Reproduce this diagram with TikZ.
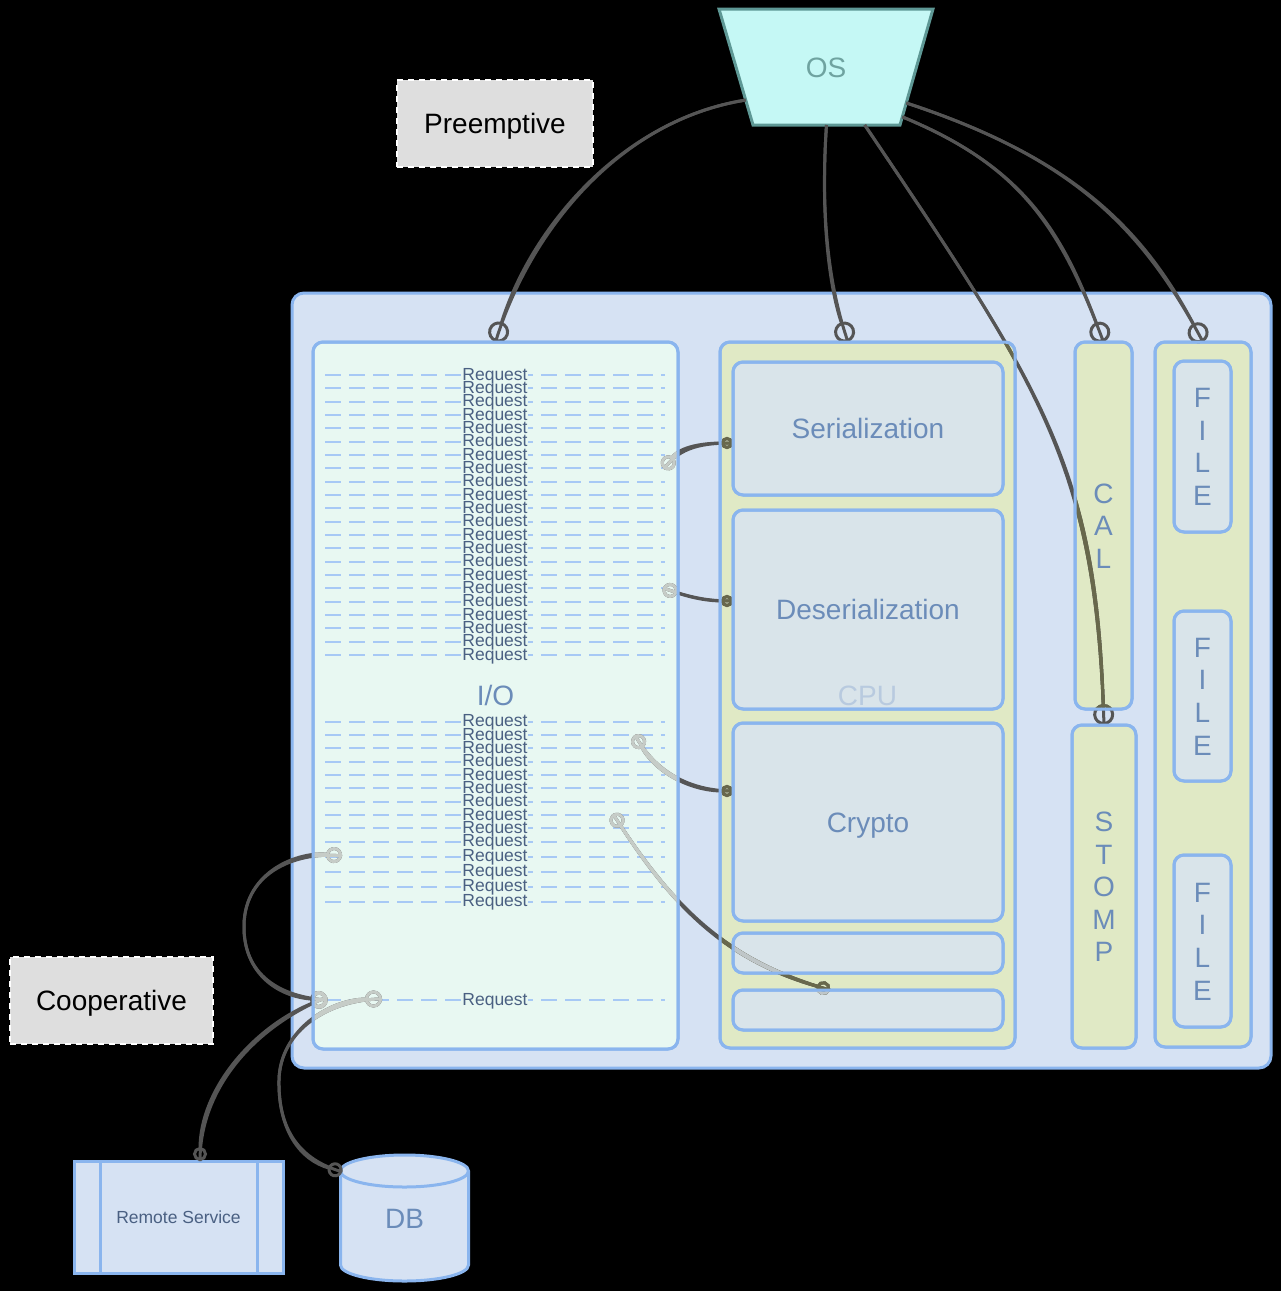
\documentclass[tikz,border=0pt]{standalone}
\usepackage{fontspec}
\setmainfont{Liberation Sans}
\usetikzlibrary{arrows.meta,calc}
\definecolor{mainfill}{HTML}{D6E2F3}
\definecolor{bordc}{HTML}{8AB5EE}
\definecolor{iofill}{HTML}{E8F8F2}
\definecolor{ygfill}{HTML}{E0E9C5}
\definecolor{innerfill}{HTML}{D9E4EA}
\definecolor{lblc}{HTML}{6B8CB9}
\definecolor{reqtxt}{HTML}{4A6082}
\definecolor{dashc}{HTML}{A7C9F5}
\definecolor{osfill}{HTML}{C5F8F5}
\definecolor{osline}{HTML}{5E9895}
\definecolor{ostxt}{HTML}{6FA3A0}
\definecolor{greyfill}{HTML}{DEDEDE}
\definecolor{linedark}{HTML}{555555}
\definecolor{lineio}{HTML}{C6CCC7}
\definecolor{lineolive}{HTML}{68684C}
\definecolor{lineinner}{HTML}{BFC6C8}
\definecolor{cpufade}{HTML}{B8CADF}
\newcommand\myBig{\fontsize{28pt}{32pt}\selectfont}
\newcommand\myReq{\fontsize{17.5pt}{20pt}\selectfont}
\newcommand\cn[2]{\draw #2; \draw[#1] #2;}
\newcommand\drawconns[1]{%
\begin{scope}[color=#1, line width=3pt]
\cn{-{Circle[open,length=21pt,width=21pt]}}{($(ostl)!0.785!(osbl)$) .. controls (620,120) and (530,230) .. (io.north)}
\cn{-{Circle[open,length=21pt,width=21pt]}}{($(osbl)!0.5!(osbr)$) .. controls (820,220) and (830,290) .. ($(cpu.north)+(-19.5,0)$)}
\cn{-{Circle[open,length=21pt,width=21pt]}}{($(osbl)!0.76!(osbr)$) .. controls (1044,391) and (1095.5,467) .. (stomp.north)}
\cn{-{Circle[open,length=21pt,width=21pt]}}{($(ostr)!0.93!(osbr)$) .. controls (1022,166) and (1061,229) .. (cal.north)}
\cn{-{Circle[open,length=21pt,width=21pt]}}{($(ostr)!0.81!(osbr)$) .. controls (1071,157) and (1142,227) .. (filec.north)}
\cn{{Circle[open,length=15pt,width=15pt]}-{Circle[open,length=12pt,width=12pt]}}{(p1) .. controls (680,446) and (705,443) .. ($(ser.west)+(0,14.5)$)}
\cn{{Circle[open,length=15pt,width=15pt]}-{Circle[open,length=12pt,width=12pt]}}{(p2) .. controls (692,598) and (708,601) .. ($(deser.west)+(0,-8.5)$)}
\cn{{Circle[open,length=15pt,width=15pt]}-{Circle[open,length=12pt,width=12pt]}}{(p3) .. controls (655,772) and (690,791) .. ($(crypto.west)+(0,-31)$)}
\cn{{Circle[open,length=15pt,width=15pt]}-{Circle[open,length=14pt,width=14pt]}}{(p4) .. controls (672,905) and (724,960) .. ($(sm2.north)+(-38,0)$)}
\cn{{Circle[open,length=16pt,width=16pt]}-{Circle[open,length=17pt,width=17pt]}}{(p5) .. controls (300,851) and (245,870) .. (244,925) .. controls (243,975) and (280,997) .. (p6)}
\cn{{Circle[open,length=17pt,width=17pt]}-{Circle[open,length=14pt,width=14pt]}}{(p7) .. controls (252,1028) and (200,1090) .. ($(remote.north)+(21.5,0)$)}
\cn{{Circle[open,length=17pt,width=17pt]}-{Circle[open,length=15pt,width=15pt]}}{(p8) .. controls (330,999) and (280,1030) .. (279,1080) .. controls (278,1130) and (300,1160) .. ($(db.north west)+(2,17)$)}
\end{scope}}
\begin{document}
\begin{tikzpicture}[x=1pt,y=-1pt,
 bx/.style={draw=bordc,line width=3pt,rounded corners=10pt,inner sep=0pt,outer sep=0pt},
 big/.style={font=\myBig,text height=20pt,text depth=0pt,text=lblc,inner sep=0pt},
 letter/.style={font=\myBig,text height=20pt,text depth=0pt,text=lblc,inner sep=0pt},
 req/.style={font=\myReq,text height=12.5pt,text depth=0pt,text=reqtxt,inner sep=0pt},
 reqline/.style={draw=dashc,line width=2pt,dash pattern=on 16pt off 8pt},
 gbox/.style={fill=greyfill,draw=white,line width=2pt,dash pattern=on 6pt off 5pt,minimum height=87pt,inner sep=0pt,font=\myBig,text height=20pt,text depth=0pt,text=black},
]
\fill[black] (0,0) rectangle (1281,1291);
\useasboundingbox (0,0) rectangle (1281,1291);

% main container
\node[bx,fill=mainfill,rounded corners=12pt,minimum width=979pt,minimum height=775pt] (main) at (781.5,680.5) {};

% labels
\node[gbox,minimum width=196pt] (pre) at (495,123.5) {Preemptive};
\node[gbox,minimum width=203pt] (coop) at (111.5,1000) {Cooperative};

% I/O
\node[bx,fill=iofill,minimum width=365pt,minimum height=707pt,big] (io) at (495.5,695.5) {I/O};
\foreach \k in {0,...,21} {
  \draw[reqline] (325,375+13.333*\k) -- (462,375+13.333*\k);
  \draw[reqline,dash phase=11pt] (528,375+13.333*\k) -- (665,375+13.333*\k);
  \node[req] (ra\k) at (495,374+13.333*\k) {Request};
}
\foreach \yy [count=\k] in {721.7,735,748.3,761.7,775,788.3,801.7,815,828.3,841.7,856.7,871.7,886.7,901.7} {
  \draw[reqline] (325,\yy) -- (462,\yy);
  \draw[reqline,dash phase=11pt] (528,\yy) -- (665,\yy);
  \node[req] (rb\k) at (495,\yy-1) {Request};
}
\draw[reqline] (325,1000) -- (462,1000);
\draw[reqline,dash phase=11pt] (528,1000) -- (665,1000);
\node[req] (rc) at (495,999) {Request};

% CPU
\node[bx,fill=ygfill,minimum width=295pt,minimum height=706pt] (cpu) at (867.5,695) {};
\node[bx,fill=innerfill,minimum width=270pt,minimum height=133pt,big] (ser) at (868,428.5) {Serialization};
\node[bx,fill=innerfill,minimum width=270pt,minimum height=199pt,big] (deser) at (868,609.5) {Deserialization};
\node[bx,fill=innerfill,minimum width=270pt,minimum height=198pt,big] (crypto) at (868,822) {Crypto};
\node[bx,fill=innerfill,minimum width=270pt,minimum height=40pt] (sm1) at (868,953) {};
\node[bx,fill=innerfill,minimum width=270pt,minimum height=40pt] (sm2) at (868,1010) {};

% CAL / STOMP / FILE
\node[bx,fill=ygfill,minimum width=57pt,minimum height=367pt] (cal) at (1103.5,525.5) {};
\foreach \ch [count=\k from 0] in {C,A,L} \node[letter] (cal\k) at (1103.5,493+32.5*\k) {\ch};
\node[bx,fill=ygfill,minimum width=64pt,minimum height=323pt] (stomp) at (1104,886.5) {};
\foreach \ch [count=\k from 0] in {S,T,O,M,P} \node[letter] (stomp\k) at (1104,821.5+32.5*\k) {\ch};
\node[bx,fill=ygfill,minimum width=96pt,minimum height=705pt] (filec) at (1203,694.5) {};
\node[bx,fill=innerfill,minimum width=57pt,minimum height=171pt] (file1) at (1202.5,446.5) {};
\node[bx,fill=innerfill,minimum width=57pt,minimum height=170pt] (file2) at (1202.5,696) {};
\node[bx,fill=innerfill,minimum width=57pt,minimum height=172pt] (file3) at (1202.5,941) {};
\foreach \f/\cy in {1/446.5,2/696,3/941}
  \foreach \ch [count=\k from 0] in {F,I,L,E}
    \node[letter] (file\f l\k) at (1202.5,\cy-49+32.7*\k) {\ch};

% OS
\coordinate (ostl) at (719,9);
\coordinate (ostr) at (933,9);
\coordinate (osbr) at (900,125);
\coordinate (osbl) at (753,125);
\draw[fill=osfill,draw=osline,line width=3pt] (ostl) -- (ostr) -- (osbr) -- (osbl) -- cycle;
\node[big,text=ostxt] (os) at (826,67) {OS};

% Remote service
\node[draw=bordc,line width=3pt,fill=mainfill,minimum width=209pt,minimum height=112pt,inner sep=0pt,outer sep=0pt,font=\myReq,text height=12.5pt,text depth=0pt,text=reqtxt] (remote) at (178.5,1217) {Remote Service};
\draw[bordc,line width=3pt] ($(remote.north west)+(26,0)$) -- ($(remote.south west)+(26,0)$);
\draw[bordc,line width=3pt] ($(remote.north east)+(-26,0)$) -- ($(remote.south east)+(-26,0)$);

% DB
\draw[bordc,line width=3pt,fill=mainfill] (340.5,1171) -- (340.5,1265) arc[start angle=180,end angle=360,x radius=64pt,y radius=16pt] -- (468.5,1171) arc[start angle=0,end angle=180,x radius=64pt,y radius=16pt] -- cycle;
\draw[bordc,line width=3pt] (468.5,1171) arc[start angle=0,end angle=-180,x radius=64pt,y radius=16pt];
\node[big,minimum width=128pt,minimum height=126pt] (db) at (404.5,1218) {DB};

% connector end points inside I/O
\coordinate (p1) at (664,469);
\coordinate (p2) at (663,588);
\coordinate (p3) at (635,735);
\coordinate (p4) at (613,814);
\coordinate (p5) at (342,856);
\coordinate (p6) at (327,1000);
\coordinate (p7) at (327,997);
\coordinate (p8) at (382,999);

% connectors
\drawconns{linedark}
\begin{scope}
\clip[rounded corners=10pt] (io.north west) rectangle (io.south east);
\drawconns{lineio}
\end{scope}
\begin{scope}
\clip[rounded corners=10pt] (cpu.north west) rectangle (cpu.south east) (cal.north west) rectangle (cal.south east) (stomp.north west) rectangle (stomp.south east) (filec.north west) rectangle (filec.south east);
\drawconns{lineolive}
\end{scope}
\begin{scope}
\clip[rounded corners=10pt] (ser.north west) rectangle (ser.south east) (deser.north west) rectangle (deser.south east) (crypto.north west) rectangle (crypto.south east) (sm1.north west) rectangle (sm1.south east) (sm2.north west) rectangle (sm2.south east) (file1.north west) rectangle (file1.south east) (file2.north west) rectangle (file2.south east) (file3.north west) rectangle (file3.south east);
\drawconns{lineinner}
\end{scope}

% borders on top
\foreach \n in {io,cpu,ser,deser,crypto,sm1,sm2,cal,stomp,filec,file1,file2,file3}
  \draw[bordc,line width=3pt,rounded corners=10pt] (\n.north west) rectangle (\n.south east);

\node[big,text=cpufade] (cpulbl) at (cpu.center) {CPU};
\end{tikzpicture}
\end{document}
